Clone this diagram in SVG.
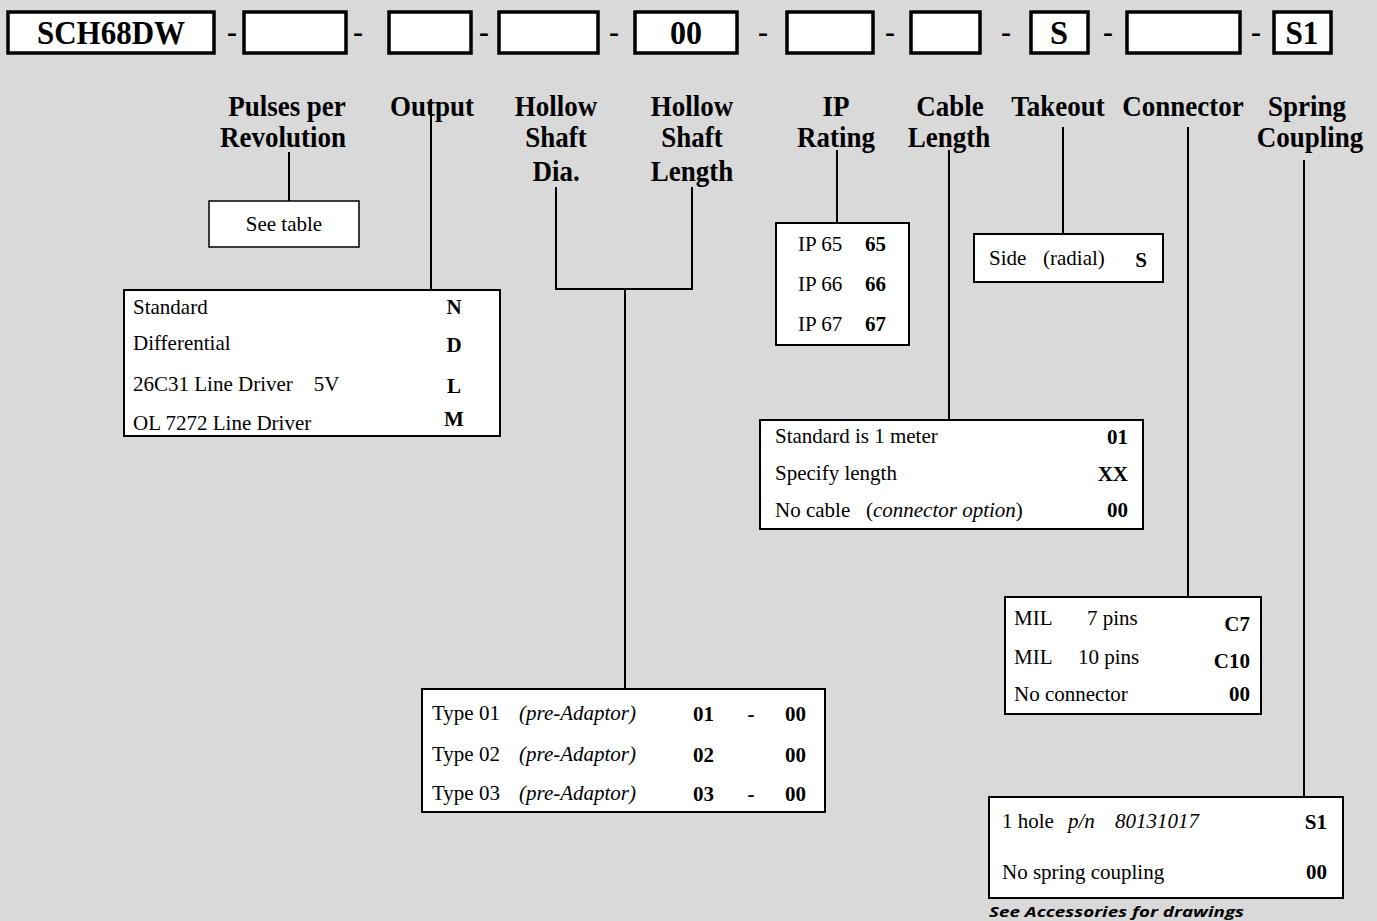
<svg xmlns="http://www.w3.org/2000/svg" width="1377" height="921" viewBox="0 0 1377 921">
<style>
.bg{fill:#d9d9d9}
.top{fill:#fff;stroke:#000;stroke-width:3.5}
.box{fill:#fff;stroke:#000;stroke-width:2}
.thin{fill:#fff;stroke:#000;stroke-width:1.5}
.ln{stroke:#000;stroke-width:2;fill:none}
text{font-family:"Liberation Serif","Times New Roman",serif;fill:#000}
.tb{font-size:34px;font-weight:bold;text-anchor:middle}
.dash{font-size:30px;font-weight:bold;text-anchor:middle}
.hd{font-size:30px;font-weight:bold;text-anchor:middle}
.t{font-size:21px}
.c{font-size:21px;font-weight:bold}
.r{text-anchor:end}
.m{text-anchor:middle}
.i{font-style:italic}
.foot{font-family:"Open Sans","Noto Sans",sans-serif;font-size:15px;font-weight:bold;font-style:italic}
</style>
<rect class="bg" x="0" y="0" width="1377" height="921"/>

<g id="code-boxes">
<rect class="top" x="8" y="12" width="206" height="41"/>
<text class="tb" x="111" y="44" textLength="148" lengthAdjust="spacingAndGlyphs">SCH68DW</text>
<text class="dash" x="232" y="42">-</text>
<rect class="top" x="244" y="12" width="102" height="41"/>
<text class="dash" x="358" y="42">-</text>
<rect class="top" x="389" y="12" width="82" height="41"/>
<text class="dash" x="484" y="42">-</text>
<rect class="top" x="499" y="12" width="99" height="41"/>
<text class="dash" x="614" y="42">-</text>
<rect class="top" x="635" y="12" width="102" height="41"/>
<text class="tb" x="686" y="44" textLength="32" lengthAdjust="spacingAndGlyphs">00</text>
<text class="dash" x="763" y="42">-</text>
<rect class="top" x="787" y="12" width="86" height="41"/>
<text class="dash" x="890" y="42">-</text>
<rect class="top" x="911" y="12" width="69" height="41"/>
<text class="dash" x="1006" y="42">-</text>
<rect class="top" x="1031" y="12" width="57" height="41"/>
<text class="tb" x="1059" y="44" textLength="18" lengthAdjust="spacingAndGlyphs">S</text>
<text class="dash" x="1108" y="42">-</text>
<rect class="top" x="1127" y="12" width="113" height="41"/>
<text class="dash" x="1256" y="42">-</text>
<rect class="top" x="1274" y="12" width="57" height="41"/>
<text class="tb" x="1302" y="44" textLength="33" lengthAdjust="spacingAndGlyphs">S1</text>
</g>

<g id="headers" transform="scale(0.9,1)">
<text class="hd" x="318.9" y="116">Pulses per</text>
<text class="hd" x="314.4" y="147">Revolution</text>
<text class="hd" x="480" y="116">Output</text>
<text class="hd" x="617.8" y="116">Hollow</text>
<text class="hd" x="617.8" y="147">Shaft</text>
<text class="hd" x="617.8" y="181">Dia.</text>
<text class="hd" x="768.9" y="116">Hollow</text>
<text class="hd" x="768.9" y="147">Shaft</text>
<text class="hd" x="768.9" y="181">Length</text>
<text class="hd" x="928.9" y="116">IP</text>
<text class="hd" x="928.9" y="147">Rating</text>
<text class="hd" x="1055.6" y="116">Cable</text>
<text class="hd" x="1054.4" y="147">Length</text>
<text class="hd" x="1175.6" y="116">Takeout</text>
<text class="hd" x="1314.4" y="116">Connector</text>
<text class="hd" x="1452.2" y="116">Spring</text>
<text class="hd" x="1455.6" y="147">Coupling</text>
</g>

<g id="connectors">
<line class="ln" x1="289" y1="152" x2="289" y2="201"/>
<line class="ln" x1="431" y1="99" x2="431" y2="290"/>
<polyline class="ln" points="556,187 556,289 692,289 692,187"/>
<line class="ln" x1="625" y1="289" x2="625" y2="689"/>
<line class="ln" x1="837" y1="150" x2="837" y2="223"/>
<line class="ln" x1="949" y1="150" x2="949" y2="420"/>
<line class="ln" x1="1063" y1="127" x2="1063" y2="234"/>
<line class="ln" x1="1188" y1="127" x2="1188" y2="597"/>
<line class="ln" x1="1304" y1="160" x2="1304" y2="797"/>
</g>

<g id="pulses">
<rect class="thin" x="209" y="201" width="150" height="46"/>
<text class="t m" x="284" y="231">See table</text>
</g>

<g id="output">
<rect class="box" x="124" y="290" width="376" height="146"/>
<text class="t" x="133" y="314">Standard</text>
<text class="t" x="133" y="350">Differential</text>
<text class="t" x="133" y="391" xml:space="preserve">26C31 Line Driver    5V</text>
<text class="t" x="133" y="430">OL 7272 Line Driver</text>
<text class="c m" x="454" y="314">N</text>
<text class="c m" x="454" y="352">D</text>
<text class="c m" x="454" y="393">L</text>
<text class="c m" x="454" y="426">M</text>
</g>

<g id="hollow-shaft">
<rect class="box" x="422" y="689" width="403" height="123"/>
<text class="t" x="432" y="720">Type 01</text>
<text class="t i" x="519" y="720">(pre-Adaptor)</text>
<text class="c" x="693" y="721">01</text>
<text class="c m" x="751" y="721">-</text>
<text class="c" x="785" y="721">00</text>
<text class="t" x="432" y="761">Type 02</text>
<text class="t i" x="519" y="761">(pre-Adaptor)</text>
<text class="c" x="693" y="762">02</text>
<text class="c" x="785" y="762">00</text>
<text class="t" x="432" y="800">Type 03</text>
<text class="t i" x="519" y="800">(pre-Adaptor)</text>
<text class="c" x="693" y="801">03</text>
<text class="c m" x="751" y="801">-</text>
<text class="c" x="785" y="801">00</text>
</g>

<g id="ip-rating">
<rect class="box" x="776" y="223" width="133" height="122"/>
<text class="t" x="798" y="251">IP 65</text>
<text class="c" x="865" y="251">65</text>
<text class="t" x="798" y="291">IP 66</text>
<text class="c" x="865" y="291">66</text>
<text class="t" x="798" y="331">IP 67</text>
<text class="c" x="865" y="331">67</text>
</g>

<g id="takeout">
<rect class="box" x="974" y="234" width="189" height="48"/>
<text class="t" x="989" y="265">Side</text>
<text class="t" x="1043" y="265">(radial)</text>
<text class="c m" x="1141" y="267">S</text>
</g>

<g id="cable-length">
<rect class="box" x="760" y="420" width="383" height="109"/>
<text class="t" x="775" y="443">Standard is 1 meter</text>
<text class="c r" x="1128" y="444">01</text>
<text class="t" x="775" y="480">Specify length</text>
<text class="c r" x="1128" y="481">XX</text>
<text class="t" x="775" y="517" xml:space="preserve">No cable   (<tspan font-style="italic">connector option</tspan>)</text>
<text class="c r" x="1128" y="517">00</text>
</g>

<g id="connector">
<rect class="box" x="1005" y="597" width="256" height="117"/>
<text class="t" x="1014" y="625">MIL</text>
<text class="t" x="1087" y="625">7 pins</text>
<text class="c r" x="1250" y="631">C7</text>
<text class="t" x="1014" y="664">MIL</text>
<text class="t" x="1078" y="664">10 pins</text>
<text class="c r" x="1250" y="668">C10</text>
<text class="t" x="1014" y="701">No connector</text>
<text class="c r" x="1250" y="701">00</text>
</g>

<g id="spring-coupling">
<rect class="box" x="989" y="797" width="354" height="101"/>
<text class="t" x="1002" y="828">1 hole</text>
<text class="t i" x="1068" y="828">p/n</text>
<text class="t i" x="1115" y="828">80131017</text>
<text class="c r" x="1327" y="829">S1</text>
<text class="t" x="1002" y="879">No spring coupling</text>
<text class="c r" x="1327" y="879">00</text>
<text class="foot" x="989" y="917" textLength="255" lengthAdjust="spacingAndGlyphs">See Accessories for drawings</text>
</g>
</svg>
